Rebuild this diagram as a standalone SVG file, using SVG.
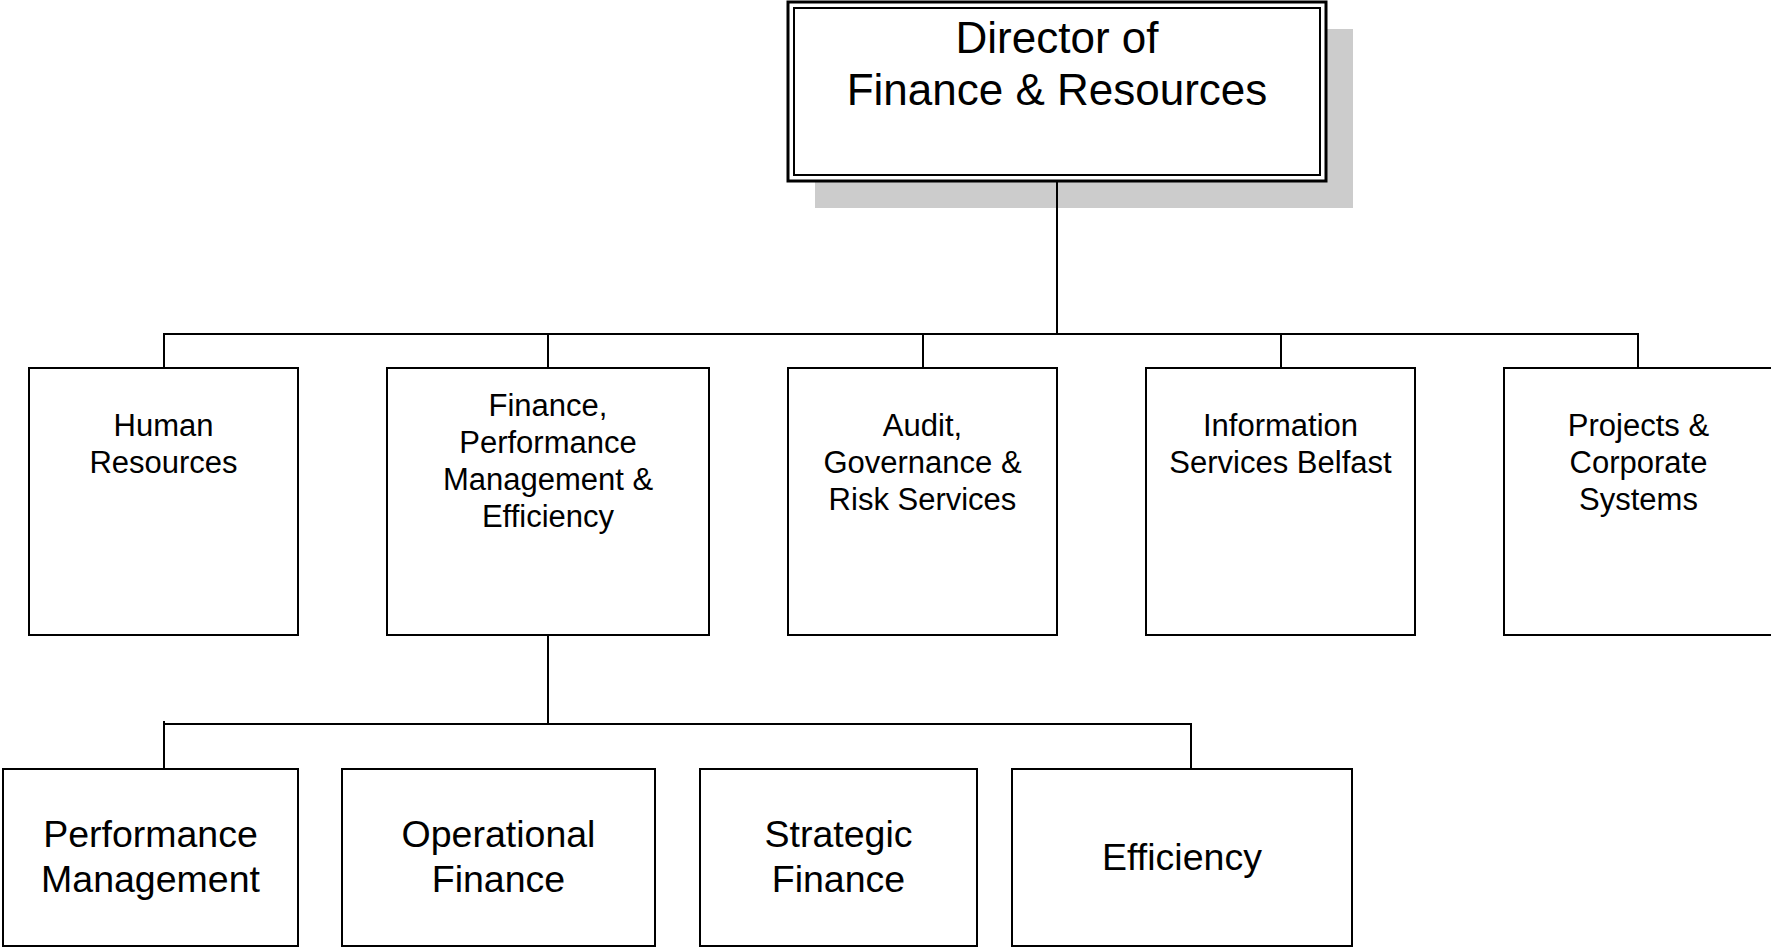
<svg xmlns="http://www.w3.org/2000/svg" width="1771" height="948" viewBox="0 0 1771 948">
<style>
  .box { fill: #ffffff; stroke: #000000; stroke-width: 2; }
  .conn { fill: none; stroke: #000000; stroke-width: 2; }
  .shadow { fill: #cccccc; stroke: none; }
  text { font-family: "Liberation Sans", Arial, sans-serif; fill: #000000; text-anchor: middle; }
  .t1 { font-size: 44px; }
  .t2 { font-size: 31px; }
  .t3 { font-size: 37.5px; }
</style>
<rect x="0" y="0" width="1771" height="948" fill="#ffffff"/>
<g id="director">
  <rect class="shadow" x="815" y="29" width="538" height="179"/>
  <rect x="788" y="2" width="538" height="179" fill="#ffffff" stroke="#000000" stroke-width="3"/>
  <rect x="794" y="8" width="526" height="167" fill="none" stroke="#000000" stroke-width="2"/>
  <text class="t1" x="1057" y="53">Director of</text>
  <text class="t1" x="1057" y="105">Finance &amp; Resources</text>
</g>
<g id="human-resources">
  <rect class="box" x="29" y="368" width="269" height="267"/>
  <text class="t2" x="163.5" y="436">Human</text>
  <text class="t2" x="163.5" y="473">Resources</text>
</g>
<g id="finance-performance">
  <rect class="box" x="387" y="368" width="322" height="267"/>
  <text class="t2" x="548" y="416">Finance,</text>
  <text class="t2" x="548" y="453">Performance</text>
  <text class="t2" x="548" y="490">Management &amp;</text>
  <text class="t2" x="548" y="527">Efficiency</text>
</g>
<g id="audit">
  <rect class="box" x="788" y="368" width="269" height="267"/>
  <text class="t2" x="922.5" y="436">Audit,</text>
  <text class="t2" x="922.5" y="473">Governance &amp;</text>
  <text class="t2" x="922.5" y="510">Risk Services</text>
</g>
<g id="information-services">
  <rect class="box" x="1146" y="368" width="269" height="267"/>
  <text class="t2" x="1280.5" y="436">Information</text>
  <text class="t2" x="1280.5" y="473">Services Belfast</text>
</g>
<g id="projects">
  <rect class="box" x="1504" y="368" width="269" height="267"/>
  <text class="t2" x="1638.5" y="436">Projects &amp;</text>
  <text class="t2" x="1638.5" y="473">Corporate</text>
  <text class="t2" x="1638.5" y="510">Systems</text>
</g>
<g id="performance-management">
  <rect class="box" x="3" y="769" width="295" height="177"/>
  <text class="t3" x="150.5" y="847">Performance</text>
  <text class="t3" x="150.5" y="892">Management</text>
</g>
<g id="operational-finance">
  <rect class="box" x="342" y="769" width="313" height="177"/>
  <text class="t3" x="498.5" y="847">Operational</text>
  <text class="t3" x="498.5" y="892">Finance</text>
</g>
<g id="strategic-finance">
  <rect class="box" x="700" y="769" width="277" height="177"/>
  <text class="t3" x="838.5" y="847">Strategic</text>
  <text class="t3" x="838.5" y="892">Finance</text>
</g>
<g id="efficiency">
  <rect class="box" x="1012" y="769" width="340" height="177"/>
  <text class="t3" x="1182" y="870">Efficiency</text>
</g>
<g id="connectors">
  <path class="conn" d="M1057 182 V334" stroke-width="2.5"/>
  <path class="conn" d="M164 368 V334 H1638 V368"/>
  <path class="conn" d="M548 334 V368"/>
  <path class="conn" d="M923 334 V368"/>
  <path class="conn" d="M1281 334 V368"/>
  <path class="conn" d="M548 635 V724"/>
  <path class="conn" d="M164 721 V769"/>
  <path class="conn" d="M164 724 H1191 V769"/>
</g>
</svg>
